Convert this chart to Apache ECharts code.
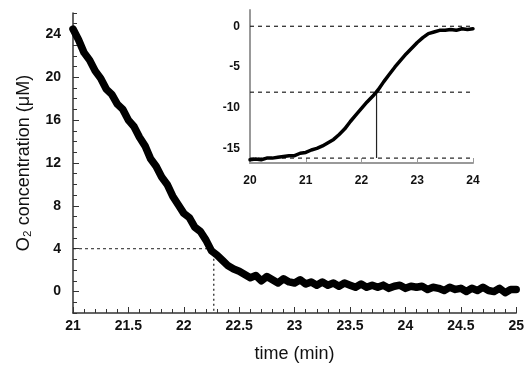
<!DOCTYPE html>
<html>
<head>
<meta charset="utf-8">
<script src="https://cdn.jsdelivr.net/npm/echarts@6/dist/echarts.min.js"></script>
<style>
  html, body { margin: 0; padding: 0; background: #fff; }
  #chart { width: 527px; height: 368px; }
</style>
</head>
<body>
<div id="chart"></div>
<script>
// main trace: O2 concentration vs time
const mainTime = [
  21.00, 21.05, 21.10, 21.15, 21.20, 21.25, 21.30, 21.35, 21.40, 21.45,
  21.50, 21.55, 21.60, 21.65, 21.70, 21.75, 21.80, 21.85, 21.90, 21.95,
  22.00, 22.05, 22.10, 22.15, 22.20, 22.25, 22.30, 22.35, 22.40, 22.45,
  22.50, 22.55, 22.60, 22.65, 22.70, 22.75, 22.80, 22.85, 22.90, 22.95,
  23.00, 23.05, 23.10, 23.15, 23.20, 23.25, 23.30, 23.35, 23.40, 23.45,
  23.50, 23.55, 23.60, 23.65, 23.70, 23.75, 23.80, 23.85, 23.90, 23.95,
  24.00, 24.05, 24.10, 24.15, 24.20, 24.25, 24.30, 24.35, 24.40, 24.45,
  24.50, 24.55, 24.60, 24.65, 24.70, 24.75, 24.80, 24.85, 24.90, 24.95, 25.00
]
const mainO2 = [
  24.5, 23.5, 22.3, 21.6, 20.6, 19.9, 18.9, 18.4, 17.5, 17.0,
  16.0, 15.4, 14.4, 13.6, 12.4, 11.7, 10.7, 10.0, 8.9, 8.1,
  7.3, 6.9, 6.0, 5.6, 4.8, 3.8, 3.4, 2.9, 2.4, 2.1,
  1.9, 1.6, 1.3, 1.5, 1.0, 1.4, 1.1, 0.8, 1.2, 0.9,
  0.8, 1.1, 0.7, 0.9, 0.6, 0.9, 0.6, 0.8, 0.5, 0.8,
  0.6, 0.4, 0.7, 0.4, 0.6, 0.4, 0.6, 0.3, 0.5, 0.6,
  0.3, 0.5, 0.4, 0.5, 0.2, 0.4, 0.3, 0.1, 0.4, 0.2,
  0.3, 0.0, 0.3, 0.1, 0.4, 0.1, 0.0, 0.3, -0.1, 0.2, 0.2
]

// inset trace
const insetTime = [
  20.0, 20.1, 20.2, 20.3, 20.4, 20.5, 20.6, 20.7, 20.8, 20.9,
  21.0, 21.1, 21.2, 21.3, 21.4, 21.5, 21.6, 21.7, 21.8, 21.9,
  22.0, 22.1, 22.2, 22.3, 22.4, 22.5, 22.6, 22.7, 22.8, 22.9,
  23.0, 23.1, 23.2, 23.3, 23.4, 23.5, 23.6, 23.7, 23.8, 23.9, 24.0
]
const insetValue = [
  -16.4, -16.3, -16.4, -16.2, -16.2, -16.1, -16.0, -15.9, -15.9, -15.6,
  -15.5, -15.2, -15.0, -14.7, -14.3, -13.9, -13.3, -12.6, -11.7, -10.9,
  -10.1, -9.3, -8.6, -7.8, -6.8, -5.9, -5.0, -4.2, -3.4, -2.7,
  -2.0, -1.4, -0.9, -0.7, -0.5, -0.5, -0.4, -0.5, -0.3, -0.4, -0.3
]

// guide lines
const halfTime = 22.27
const halfO2 = 4
const insetLevels = [0, -8.1, -16.2]

const mainYLabels = [0, 4, 8, 12, 16, 20, 24]
const insetYLabels = [-15, -10, -5, 0]

const zip = (xs, ys) => xs.map((x, i) => [x, ys[i]])

const font = "Liberation Sans, Arial, sans-serif"
const chart = echarts.init(document.getElementById("chart"))

const option = {
  animation: false,
  backgroundColor: "#fff",
  grid: [
    { left: 73, top: 13, width: 444, height: 309 },
    { left: 250, top: 10, width: 223, height: 153 },
  ],
  xAxis: [
    {
      gridIndex: 0,
      type: "value",
      min: 21,
      max: 25,
      interval: 0.5,
      name: "time (min)",
      nameLocation: "middle",
      nameGap: 32,
      nameTextStyle: { fontFamily: font, fontSize: 18, color: "#111" },
      axisLine: { onZero: false, lineStyle: { color: "#333", width: 1.5 } },
      axisTick: { inside: true, length: 6, lineStyle: { color: "#333" } },
      minorTick: { show: true, splitNumber: 5, length: 4, lineStyle: { color: "#333" } },
      axisLabel: { fontFamily: font, fontSize: 14, fontWeight: "bold", color: "#111", margin: 6 },
      splitLine: { show: false },
    },
    {
      gridIndex: 1,
      type: "value",
      min: 20,
      max: 24,
      interval: 1,
      axisLine: { onZero: false, lineStyle: { color: "#999", width: 2 } },
      axisTick: { inside: true, length: 5, lineStyle: { color: "#999" } },
      axisLabel: { fontFamily: font, fontSize: 12, fontWeight: "bold", color: "#111", margin: 12 },
      splitLine: { show: false },
    },
  ],
  yAxis: [
    {
      gridIndex: 0,
      type: "value",
      min: -2,
      max: 26,
      name: "O\u2082 concentration (\u03BCM)",
      nameLocation: "middle",
      nameGap: 40,
      nameTextStyle: { fontFamily: font, fontSize: 18, color: "#111" },
      axisLine: { show: true, onZero: false, lineStyle: { color: "#333", width: 1.5 } },
      axisTick: { show: true, inside: true, length: 6, customValues: mainYLabels, lineStyle: { color: "#333" } },
      axisLabel: { fontFamily: font, fontSize: 14, fontWeight: "bold", color: "#111", margin: 12, customValues: mainYLabels },
      splitLine: { show: false },
    },
    {
      // minor ticks for main y axis
      gridIndex: 0,
      type: "value",
      min: -2,
      max: 26,
      interval: 1,
      position: "left",
      axisLine: { show: false, onZero: false },
      axisTick: { show: true, inside: true, length: 4, lineStyle: { color: "#333" } },
      axisLabel: { show: false },
      splitLine: { show: false },
    },
    {
      gridIndex: 1,
      type: "value",
      min: -16.8,
      max: 2,
      axisLine: { show: true, onZero: false, lineStyle: { color: "#999", width: 2 } },
      axisTick: { show: false, customValues: insetYLabels },
      axisLabel: { fontFamily: font, fontSize: 12, fontWeight: "bold", color: "#111", margin: 10, customValues: insetYLabels },
      splitLine: { show: false },
    },
  ],
  series: [
    {
      type: "line",
      xAxisIndex: 0,
      yAxisIndex: 0,
      data: [[21, halfO2], [halfTime, halfO2]],
      symbol: "none",
      lineStyle: { color: "#222", width: 1, type: [3, 3] },
    },
    {
      type: "line",
      xAxisIndex: 0,
      yAxisIndex: 0,
      data: [[halfTime, halfO2], [halfTime, -2]],
      symbol: "none",
      lineStyle: { color: "#444", width: 1.5, type: [2, 3] },
    },
    {
      type: "line",
      xAxisIndex: 0,
      yAxisIndex: 0,
      data: zip(mainTime, mainO2),
      symbol: "none",
      lineStyle: { color: "#000", width: 7.5, cap: "round", join: "round" },
    },
    ...insetLevels.map((lv) => ({
      type: "line",
      xAxisIndex: 1,
      yAxisIndex: 2,
      data: [[20, lv], [24, lv]],
      symbol: "none",
      lineStyle: { color: "#222", width: 1.2, type: [4, 4] },
    })),
    {
      type: "line",
      xAxisIndex: 1,
      yAxisIndex: 2,
      data: [[halfTime, insetLevels[1]], [halfTime, insetLevels[2]]],
      symbol: "none",
      lineStyle: { color: "#222", width: 1.2 },
    },
    {
      type: "line",
      xAxisIndex: 1,
      yAxisIndex: 2,
      data: zip(insetTime, insetValue),
      symbol: "none",
      lineStyle: { color: "#000", width: 3.5, cap: "round", join: "round" },
    },
  ],
}

chart.setOption(option)
</script>
</body>
</html>
